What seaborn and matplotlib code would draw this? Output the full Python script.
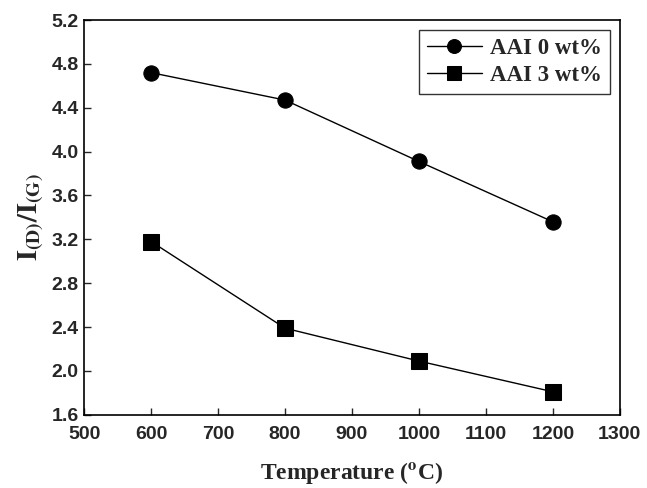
import matplotlib
matplotlib.use("Agg")
import matplotlib.pyplot as plt
import seaborn as sns
import pandas as pd

temperature = [600, 800, 1000, 1200]
aai_0 = [4.72, 4.47, 3.91, 3.36]
aai_3 = [3.18, 2.39, 2.09, 1.81]
series_names = ["AAI 0 wt%", "AAI 3 wt%"]
x_ticks = [500, 600, 700, 800, 900, 1000, 1100, 1200, 1300]
y_ticks = [1.6, 2.0, 2.4, 2.8, 3.2, 3.6, 4.0, 4.4, 4.8, 5.2]

df = pd.DataFrame({
    "T": temperature * 2,
    "v": aai_0 + aai_3,
    "s": [series_names[0]] * 4 + [series_names[1]] * 4,
})

sns.set_style("ticks")
plt.rcParams["mathtext.fontset"] = "stix"

fig = plt.figure(figsize=(6.47, 4.88), dpi=100)
ax = fig.add_axes([0.130, 0.150, 0.828, 0.809])
sns.lineplot(data=df, x="T", y="v", hue="s", style="s",
             markers={series_names[0]: "o", series_names[1]: "s"},
             dashes=False, palette=["black", "black"], markersize=11,
             linewidth=1.0, ax=ax, markeredgecolor="black")

ax.set_xlim(500, 1300)
ax.set_ylim(1.6, 5.2)
ax.set_xticks(x_ticks)
ax.set_yticks(y_ticks)
ax.set_yticklabels([f"{v:.1f}" for v in y_ticks])
ax.tick_params(direction="in", length=5, width=1, labelsize=14, pad=4,
               top=False, right=False)
ax.tick_params(axis="x", pad=8)
for lab in ax.get_xticklabels() + ax.get_yticklabels():
    lab.set_fontfamily("Liberation Sans")
    lab.set_fontweight("bold")
for sp in ax.spines.values():
    sp.set_linewidth(1.2)
    sp.set_color("black")

ax.set_xlabel(r"Temperature ($^{\mathbf{o}}$C)", fontfamily="Liberation Serif",
              fontweight="bold", fontsize=17, labelpad=12)
ax.set_ylabel(r"$\mathbf{I_{(D)}/I_{(G)}}$", fontsize=20, labelpad=4)

leg = ax.legend(loc="upper right", frameon=True, fancybox=False,
                edgecolor="black", borderaxespad=0.45, handlelength=2.4,
                prop={"family": "Liberation Serif", "weight": "bold", "size": 16.5},
                labelspacing=0.25, handletextpad=0.35, borderpad=0.35)
leg.get_frame().set_linewidth(1.0)
for h in leg.legend_handles:
    h.set_markersize(10)

fig.savefig("out.png", dpi=100)
